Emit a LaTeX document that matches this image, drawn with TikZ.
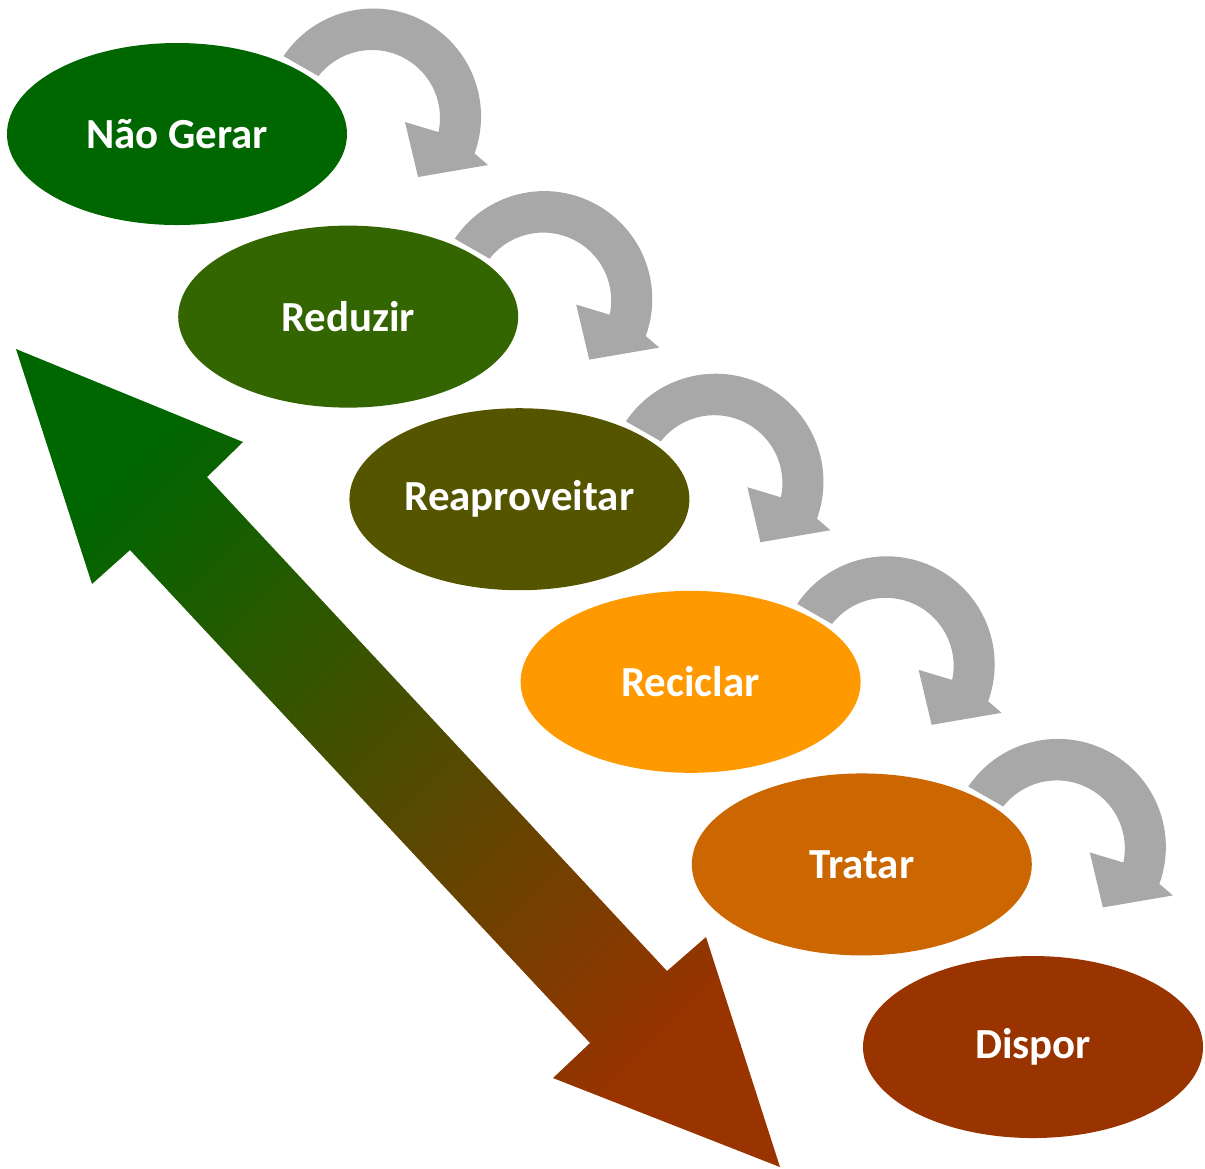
\documentclass[tikz,border=0pt]{standalone}
\usepackage{fontspec}
\setmainfont{Carlito}
\usetikzlibrary{shapes.geometric}
\definecolor{verdeA}{RGB}{0,102,0}
\definecolor{verdeB}{RGB}{51,102,0}
\definecolor{oliva}{RGB}{85,85,0}
\definecolor{laranja}{RGB}{255,153,0}
\definecolor{laranjaesc}{RGB}{204,102,0}
\definecolor{marrom}{RGB}{153,51,0}
\definecolor{setacinza}{RGB}{168,168,168}
\definecolor{meio}{RGB}{108,80,0}
\begin{document}
\begin{tikzpicture}[font=\bfseries\fontsize{12.2}{15}\selectfont,
    etapa/.style={ellipse, minimum width=3.4cm, minimum height=1.82cm, inner sep=0pt, text=white},
    pics/volta/.style={code={
      \fill[setacinza] (1.065,0.779) arc[start angle=146, end angle=-20, radius=1.08]
        -- (3.11,-0.31) -- (2.41,-0.43) -- (2.28,0.12) -- (2.615,0.019)
        arc[start angle=-12, end angle=142, radius=0.68] -- cycle;
    }}]
  \useasboundingbox (0,0) rectangle (12.05,-11.68);

  % seta dupla com degrade
  \shade[top color=verdeA, middle color=meio, bottom color=marrom, shading angle=45]
    (0.16,-3.49) -- (2.43,-4.42) -- (2.07,-4.77) -- (6.67,-9.71) -- (7.06,-9.37)
    -- (7.80,-11.67) -- (5.53,-10.78) -- (5.90,-10.43) -- (1.30,-5.50) -- (0.92,-5.84) -- cycle;

  % etapas
  \foreach \nome/\txt/\cor [count=\i from 0] in {ng/Não Gerar/verdeA, red/Reduzir/verdeB,
      reap/Reaproveitar/oliva, rec/Reciclar/laranja, trat/Tratar/laranjaesc, disp/Dispor/marrom}
    \node[etapa, fill=\cor] (\nome) at ({1.77+1.712*\i}, {-1.34-1.826*\i}) {\txt};

  % setas curvas
  \foreach \nome in {ng, red, reap, rec, trat}
    \pic at (\nome.center) {volta};
\end{tikzpicture}
\end{document}
